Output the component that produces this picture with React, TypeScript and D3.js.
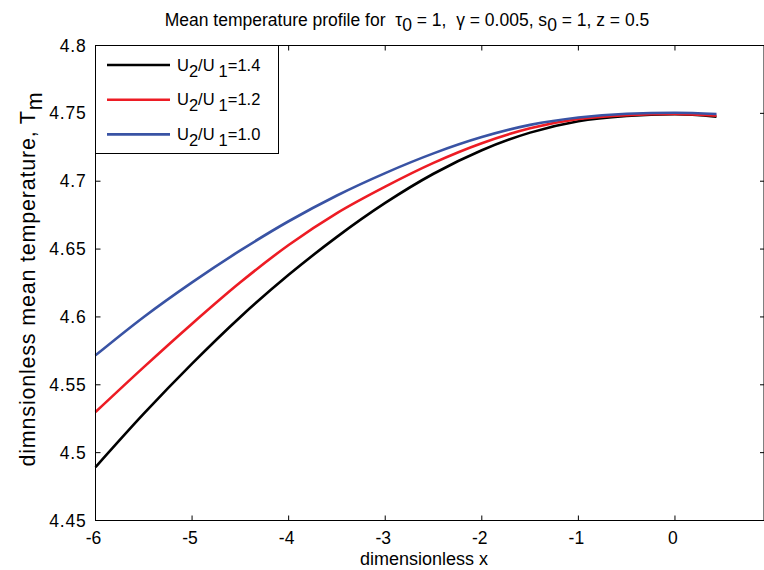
import React from "react";
import * as d3 from "d3";

const xValues = [-6, -5.5, -5, -4.5, -4, -3.5, -3, -2.5, -2, -1.5, -1, -0.5, 0, 0.43];
const series14 = [4.4893, 4.5287, 4.5656, 4.6, 4.631, 4.659, 4.684, 4.7055, 4.7228, 4.7358, 4.7442, 4.748, 4.7493, 4.7475];
const series12 = [4.5299, 4.563, 4.595, 4.6255, 4.653, 4.6765, 4.696, 4.7135, 4.728, 4.739, 4.7458, 4.7487, 4.7495, 4.7482];
const series10 = [4.5717, 4.6, 4.6255, 4.649, 4.6705, 4.6895, 4.706, 4.7205, 4.7325, 4.7415, 4.747, 4.7497, 4.7504, 4.7495];
const seriesNames = ["1.4", "1.2", "1.0"];
const seriesColors = ["#000000", "#ed1c24", "#3953a4"];
const xTicks = [-6, -5, -4, -3, -2, -1, 0];
const yTicks = [4.45, 4.5, 4.55, 4.6, 4.65, 4.7, 4.75, 4.8];

const W = 764;
const H = 570;
const left = 95.5;
const right = 764;
const top = 45.5;
const bottom = 520.5;
const FONT = "'Liberation Sans', Arial, Helvetica, sans-serif";

export default function App() {
  const x = d3.scaleLinear().domain([-6, 0.922]).range([left, right]);
  const y = d3.scaleLinear().domain([4.45, 4.8]).range([bottom, top]);
  const line = d3
    .line<number>()
    .x((_, i) => x(xValues[i]))
    .y((d) => y(d))
    .curve(d3.curveMonotoneX);
  const all = [series14, series12, series10];
  const tick = 5;
  return (
    <svg
      width={W}
      height={H}
      style={{ position: "absolute", left: 0, top: 0, background: "#fff" }}
      fontFamily={FONT}
    >
      <rect x={0} y={0} width={W} height={H} fill="#fff" />
      {all.map((s, k) => (
        <path key={k} d={line(s) || ""} fill="none" stroke={seriesColors[k]} strokeWidth={2.6} />
      ))}
      <rect x={left} y={top} width={right - left} height={bottom - top} fill="none" stroke="#000" strokeWidth={1} />
      {xTicks.map((t) => (
        <g key={"x" + t}>
          <line x1={x(t)} x2={x(t)} y1={bottom} y2={bottom - tick} stroke="#000" />
          <line x1={x(t)} x2={x(t)} y1={top} y2={top + tick} stroke="#000" />
          <text x={x(t) - 2} y={544} textAnchor="middle" fontSize={17.5}>
            {t}
          </text>
        </g>
      ))}
      {yTicks.map((t) => (
        <g key={"y" + t}>
          <line x1={left} x2={left + tick} y1={y(t)} y2={y(t)} stroke="#000" />
          <line x1={right - 4} x2={right} y1={y(t)} y2={y(t)} stroke="#000" />
          <text x={left - 9} y={y(t) + 6} textAnchor="end" fontSize={17.5} letterSpacing={0.8}>
            {String(t)}
          </text>
        </g>
      ))}
      <rect x={left} y={top} width={183} height={108} fill="#fff" stroke="#000" strokeWidth={1} />
      {seriesNames.map((n, k) => {
        const ly = 65 + k * 34.7;
        return (
          <g key={n}>
            <line x1={107} x2={170} y1={ly} y2={ly} stroke={seriesColors[k]} strokeWidth={2.6} />
            <text x={177} y={ly + 5.5} fontSize={16.5}>
              U<tspan dy={6}>2</tspan>
              <tspan dy={-6}>/U</tspan>
              <tspan dy={6} dx={4}>1</tspan>
              <tspan dy={-6}>={n}</tspan>
            </text>
          </g>
        );
      })}
      <text x={407} y={26} textAnchor="middle" fontSize={17.5} style={{ whiteSpace: "pre" }}>
        {"Mean temperature profile for  τ"}
        <tspan dy={5}>0</tspan>
        <tspan dy={-5}>{" = 1,  γ = 0.005, s"}</tspan>
        <tspan dy={5}>0</tspan>
        <tspan dy={-5}>{" = 1, z = 0.5"}</tspan>
      </text>
      <text x={424} y={565} textAnchor="middle" fontSize={18}>
        dimensionless x
      </text>
      <text transform={`translate(35, 279) rotate(-90)`} textAnchor="middle" fontSize={21.5} letterSpacing={0.8}>
        dimnsionless mean temperature, T<tspan dy={7}>m</tspan>
      </text>
    </svg>
  );
}
